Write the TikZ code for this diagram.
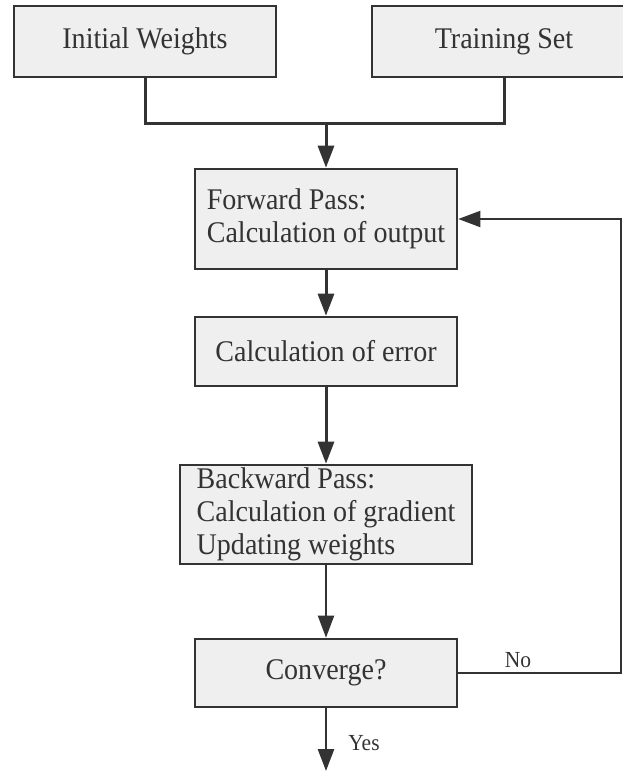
\documentclass[tikz,border=0pt]{standalone}
\usepackage{fontspec}
\setmainfont{Liberation Serif}[FakeStretch=0.935]
\usetikzlibrary{arrows.meta}
\definecolor{ink}{HTML}{333333}
\definecolor{boxfill}{HTML}{EFEFEF}
\tikzset{
  stepbox/.style={draw=ink, fill=boxfill, line width=2.6pt, rectangle,
    inner sep=0pt, text=ink, font=\fontsize{30}{33}\selectfont,
    minimum width=262pt, align=left},
  flow/.style={draw=ink, line width=3pt, -{Triangle[length=22pt,width=16pt]}},
  thinflow/.style={draw=ink, line width=2pt, -{Triangle[length=22pt,width=16pt]}},
  lbl/.style={text=ink, font=\fontsize{23}{26}\selectfont, inner sep=0pt}
}
\begin{document}
\begin{tikzpicture}[x=1pt,y=-1pt]
  \clip (0,0) rectangle (623,772);
  \fill[white] (0,0) rectangle (623,772);

  % input boxes
  \node[stepbox, minimum height=71pt] (init) at (145,41.5) {Initial Weights};
  \node[stepbox, minimum height=71pt, minimum width=264pt] (train) at (504,41.5) {Training Set};

  % processing steps
  \node[stepbox, minimum height=100pt] (fwd) at (326,219) {Forward Pass:\\Calculation of output};
  \node[stepbox, minimum height=69pt] (err) at (326,351.5) {Calculation of error};
  \node[stepbox, minimum height=99pt, minimum width=292pt] (bwd) at (326,514.5) {Backward Pass:\\Calculation of gradient\\Updating weights};
  \node[stepbox, minimum height=68pt] (conv) at (326,673) {Converge?};

  % merge of the two inputs
  \coordinate (join) at (326,123);
  \draw[ink, line width=3pt, line join=miter] (init.south) |- (join) -| (train.south);
  \draw[flow] (join) -- (fwd.north);

  % main chain
  \draw[flow] (fwd) -- (err);
  \draw[flow] (err) -- (bwd);
  \draw[thinflow] (bwd) -- (conv);

  % loop back when not converged
  \coordinate (loopR) at (621,0);
  \draw[thinflow, line join=miter] (conv.east) -| (loopR |- fwd.east) -- (fwd.east);
  \node[lbl] (no) at (518,660) {No};

  % exit
  \coordinate (out) at (326,771);
  \draw[flow, line width=2.7pt] (conv.south) -- (out);
  \node[lbl] (yes) at (364,743) {Yes};
\end{tikzpicture}
\end{document}
